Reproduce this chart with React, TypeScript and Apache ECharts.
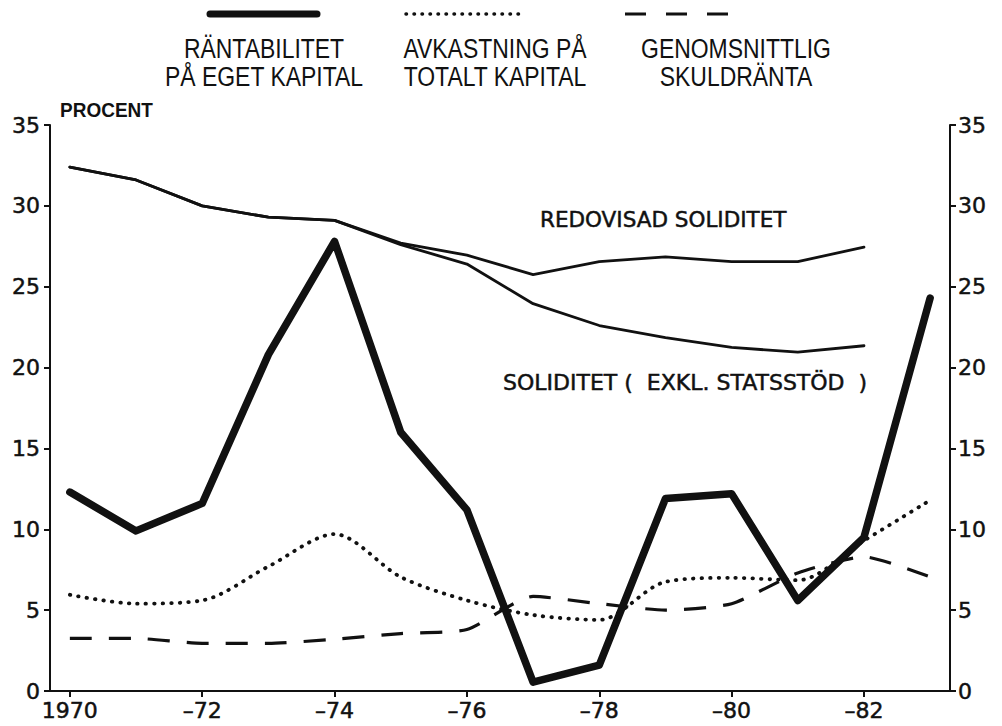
import React, { useEffect, useRef } from "react";
import * as echarts from "echarts";

const years = [1970, 1971, 1972, 1973, 1974, 1975, 1976, 1977, 1978, 1979, 1980, 1981, 1982, 1983];
const rantabilitet = [12.3, 9.9, 11.6, 20.8, 27.8, 16.0, 11.2, 0.55, 1.6, 11.9, 12.2, 5.6, 9.5, 24.3];
const avkastning = [5.95, 5.4, 5.6, 7.7, 9.7, 7.05, 5.6, 4.7, 4.4, 6.75, 7.0, 6.85, 9.3, 11.8];
const skuldranta = [3.25, 3.25, 2.95, 2.95, 3.2, 3.55, 3.8, 5.85, 5.4, 5.0, 5.4, 7.3, 8.3, 7.05];
const solidYears = [1970, 1971, 1972, 1973, 1974, 1975, 1976, 1977, 1978, 1979, 1980, 1981, 1982];
const redovisadSoliditet = [32.4, 31.6, 30.0, 29.3, 29.1, 27.7, 26.95, 25.75, 26.55, 26.85, 26.55, 26.55, 27.45];
const soliditetExkl = [32.4, 31.6, 30.0, 29.3, 29.1, 27.6, 26.4, 23.95, 22.6, 21.85, 21.25, 20.95, 21.35];
const xTicks = [1970, 1972, 1974, 1976, 1978, 1980, 1982];
const legendLabels = [
  ["RÄNTABILITET", "PÅ EGET KAPITAL"],
  ["AVKASTNING PÅ", "TOTALT KAPITAL"],
  ["GENOMSNITTLIG", "SKULDRÄNTA"],
];

const pairs = (xs: number[], ys: number[]) => xs.map((x, i) => [x, ys[i]]);

export default function App() {
  const ref = useRef<HTMLDivElement>(null);
  useEffect(() => {
    if (!ref.current) return;
    const chart = echarts.init(ref.current, null, { renderer: "svg" });
    const ink = "#111";
    const tickFont = {
      fontFamily: "DejaVu Sans",
      fontSize: 22,
      color: ink,
      textBorderColor: ink,
      textBorderWidth: 0.5,
    };
    const sans = "'Liberation Sans', Arial, sans-serif";
    const yAxisBase = {
      type: "value" as const,
      min: 0,
      max: 35,
      interval: 5,
      axisLine: { show: true, lineStyle: { color: ink, width: 2 } },
      axisTick: { show: true, length: 6, lineStyle: { color: ink, width: 2 } },
      splitLine: { show: false },
    };
    chart.setOption({
      animation: false,
      backgroundColor: "#fff",
      grid: { left: 50, right: 52, top: 125, bottom: 35 },
      xAxis: {
        type: "value",
        min: 1969.7,
        max: 1983.3,
        axisLine: { show: true, onZero: false, lineStyle: { color: ink, width: 2 } },
        axisTick: { show: true, length: 6, customValues: xTicks, lineStyle: { color: ink, width: 2 } },
        axisLabel: {
          ...tickFont,
          margin: 8,
          customValues: xTicks,
          formatter: (v: number) => (v === 1970 ? "1970" : "–" + String(v % 100)),
        },
        splitLine: { show: false },
      },
      yAxis: [
        { ...yAxisBase, position: "left", axisLabel: { ...tickFont, margin: 10 } },
        { ...yAxisBase, position: "right", axisLabel: { ...tickFont, margin: 8 } },
      ],
      series: [
        {
          name: "Redovisad soliditet",
          type: "line",
          data: pairs(solidYears, redovisadSoliditet),
          symbol: "none",
          lineStyle: { color: ink, width: 2.8, join: "round", cap: "round" },
        },
        {
          name: "Soliditet exkl statsstöd",
          type: "line",
          data: pairs(solidYears, soliditetExkl),
          symbol: "none",
          lineStyle: { color: ink, width: 2.8, join: "round", cap: "round" },
        },
        {
          name: "Avkastning på totalt kapital",
          type: "line",
          data: pairs(years, avkastning),
          symbol: "none",
          smooth: 0.3,
          lineStyle: { color: ink, width: 3.8, type: [0.5, 8], cap: "round" },
        },
        {
          name: "Genomsnittlig skuldränta",
          type: "line",
          data: pairs(years, skuldranta),
          symbol: "none",
          smooth: 0.2,
          lineStyle: { color: ink, width: 3.2, type: [22, 17] },
        },
        {
          name: "Räntabilitet på eget kapital",
          type: "line",
          data: pairs(years, rantabilitet),
          symbol: "none",
          lineStyle: { color: ink, width: 7.5, join: "round", cap: "round" },
        },
      ],
      graphic: [
        { type: "line", shape: { x1: 210, y1: 14, x2: 317, y2: 14 }, style: { stroke: ink, lineWidth: 7, lineCap: "round" } },
        { type: "line", shape: { x1: 406, y1: 14, x2: 521, y2: 14 }, style: { stroke: ink, lineWidth: 3.5, lineDash: [0.5, 7.5], lineCap: "round" } },
        { type: "line", shape: { x1: 625, y1: 14, x2: 731, y2: 14 }, style: { stroke: ink, lineWidth: 3, lineDash: [21, 20] } },
        ...legendLabels.flatMap((pair, i) =>
          pair.map((t, j) => ({
            type: "text",
            x: [264, 495, 736][i],
            y: 48 + j * 28,
            scaleX: 0.85,
            style: { text: t, fill: ink, font: `27px ${sans}`, textAlign: "center", textVerticalAlign: "middle" },
          }))
        ),
        {
          type: "text",
          x: 60,
          y: 110,
          scaleX: 0.95,
          style: { text: "PROCENT", fill: ink, font: `bold 20px ${sans}`, textAlign: "left", textVerticalAlign: "middle" },
        },
        {
          type: "text",
          x: 540,
          y: 219,
          style: { text: "REDOVISAD SOLIDITET", fill: ink, stroke: ink, lineWidth: 0.5, font: "21.5px 'DejaVu Sans'", textAlign: "left", textVerticalAlign: "middle" },
        },
        {
          type: "text",
          x: 503,
          y: 382,
          style: { text: "SOLIDITET (  EXKL. STATSSTÖD  )", fill: ink, stroke: ink, lineWidth: 0.5, font: "22px 'DejaVu Sans'", textAlign: "left", textVerticalAlign: "middle" },
        },
      ],
    });
    return () => chart.dispose();
  }, []);
  return <div ref={ref} style={{ position: "fixed", left: 0, top: 0, width: 1002, height: 726 }} />;
}
